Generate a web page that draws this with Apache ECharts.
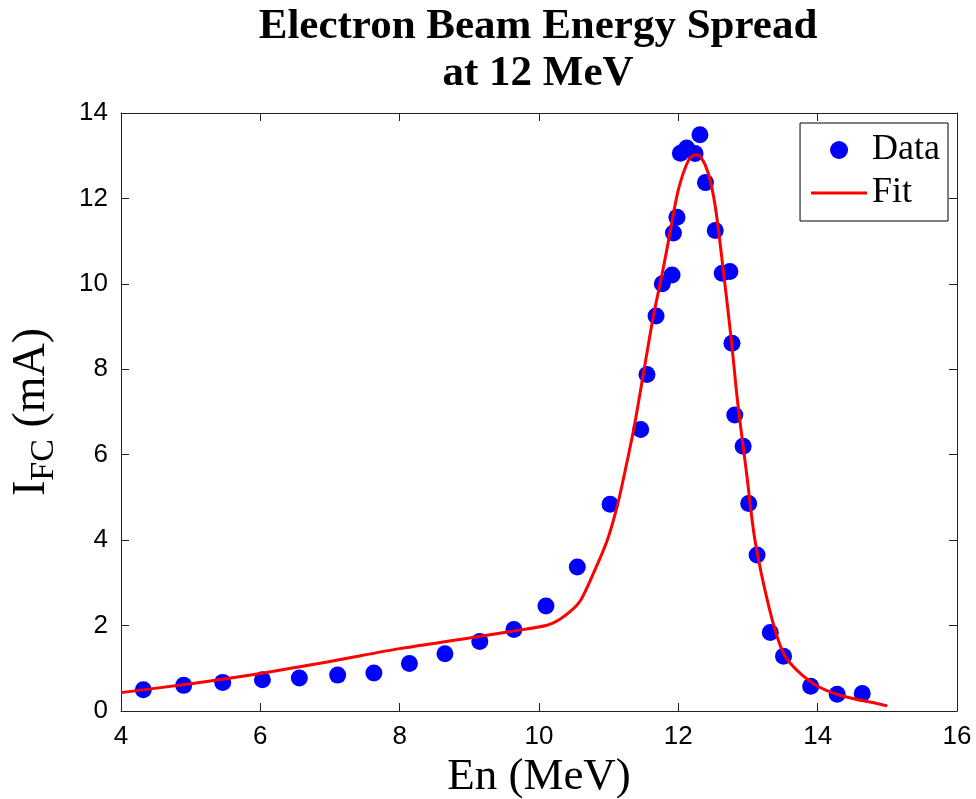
<!DOCTYPE html>
<html>
<head>
<meta charset="utf-8">
<title>Electron Beam Energy Spread</title>
<script src="https://cdn.jsdelivr.net/npm/echarts@6/dist/echarts.min.js"></script>
<style>
  html, body { margin: 0; padding: 0; background: #fff; }
  #chart { width: 976px; height: 799px; }
</style>
</head>
<body>
<div id="chart"></div>
<script>
// measured points (En in MeV, I_FC in mA)
const dataX = [4.32, 4.90, 5.46, 6.03, 6.56, 7.11, 7.63, 8.14, 8.65, 9.15, 9.64, 10.10, 10.55,
  11.02, 11.46, 11.55, 11.68, 11.77, 11.91, 11.93, 11.98, 12.03, 12.12, 12.24, 12.31, 12.39,
  12.53, 12.63, 12.74, 12.77, 12.81, 12.93, 13.01, 13.13, 13.32, 13.51, 13.90, 14.28, 14.64];
const dataY = [0.50, 0.60, 0.67, 0.73, 0.77, 0.84, 0.89, 1.11, 1.34, 1.63, 1.91, 2.46, 3.37,
  4.84, 6.59, 7.88, 9.25, 10.00, 10.21, 11.19, 11.56, 13.06, 13.18, 13.05, 13.49, 12.37,
  11.25, 10.25, 10.29, 8.61, 6.93, 6.20, 4.86, 3.65, 1.84, 1.28, 0.58, 0.39, 0.41];

// fit curve
const fitX = [4, 5, 6, 7, 8, 9, 9.64, 10.1, 10.3, 10.47, 10.6, 10.78, 10.98, 11.12, 11.22,
  11.36, 11.5, 11.64, 11.77, 11.88, 12.0, 12.15, 12.25, 12.32, 12.43, 12.53, 12.65, 12.76,
  12.85, 12.98, 13.1, 13.3, 13.47, 13.61, 13.94, 14.32, 14.9, 15];
const fitY = [0.43, 0.64, 0.88, 1.16, 1.46, 1.71, 1.875, 2.0, 2.15, 2.36, 2.6, 3.22, 4.0, 4.78,
  5.5, 6.6, 7.91, 9.23, 10.25, 11.19, 12.2, 12.91, 13.02, 12.98, 12.59, 11.81, 10.25, 8.69,
  7.25, 5.56, 4.0, 2.44, 1.5, 1.11, 0.64, 0.37, 0.16, 0.12];

const xTicks = { min: 4, max: 16, interval: 2 };
const yTicks = { min: 0, max: 14, interval: 2 };

const serif = "'Liberation Serif', 'Times New Roman', serif";
const sans = "'Liberation Sans', Arial, sans-serif";

const chart = echarts.init(document.getElementById('chart'));

// shared axis look: box frame, ticks pointing inward
function axisBase(ticks, showLabel) {
  return {
    type: 'value',
    min: ticks.min,
    max: ticks.max,
    interval: ticks.interval,
    axisLine: { show: true, onZero: false, lineStyle: { color: '#222', width: 1 } },
    axisTick: { show: true, inside: true, length: 8, lineStyle: { color: '#222' } },
    splitLine: { show: false },
    axisLabel: { show: showLabel, color: '#000', fontFamily: sans, fontSize: 26, margin: 13 }
  };
}

const option = {
  animation: false,
  backgroundColor: '#fff',
  title: {
    text: 'Electron Beam Energy Spread\nat 12 MeV',
    left: 538,
    top: 3,
    textAlign: 'center',
    padding: 0,
    textStyle: {
      fontFamily: serif,
      fontWeight: 'bold',
      fontSize: 43,
      lineHeight: 47,
      color: '#000'
    }
  },
  legend: {
    orient: 'vertical',
    right: 28,
    top: 123,
    padding: [9, 8, 10, 11],
    itemGap: 7,
    itemWidth: 56,
    itemHeight: 18,
    backgroundColor: '#fff',
    borderColor: '#000',
    borderWidth: 1,
    borderRadius: 0,
    textStyle: { fontFamily: serif, fontSize: 36, color: '#000' },
    data: [
      { name: 'Data', icon: 'circle' },
      { name: 'Fit', icon: 'path://M0,0 L56,0 L56,3 L0,3 Z', itemStyle: { color: '#ff0000' } }
    ]
  },
  grid: { left: 121, right: 19, top: 113, bottom: 88, outerBoundsMode: 'none' },
  xAxis: [
    Object.assign(axisBase(xTicks, true), {
      position: 'bottom',
      name: 'En (MeV)',
      nameLocation: 'middle',
      nameGap: 41,
      nameTextStyle: { fontFamily: serif, fontSize: 45, color: '#000' }
    }),
    Object.assign(axisBase(xTicks, false), { position: 'top' })
  ],
  yAxis: [
    Object.assign(axisBase(yTicks, true), {
      position: 'left',
      name: '{a|I}{b|FC}{a| (mA)}',
      nameLocation: 'middle',
      nameRotate: 90,
      nameGap: 60,
      nameTextStyle: {
        color: '#000',
        rich: {
          a: { fontFamily: serif, fontSize: 46, lineHeight: 58, verticalAlign: 'middle', color: '#000' },
          b: { fontFamily: serif, fontSize: 34, verticalAlign: 'bottom', color: '#000' }
        }
      }
    }),
    Object.assign(axisBase(yTicks, false), { position: 'right' })
  ],
  series: [
    {
      name: 'Data',
      type: 'scatter',
      symbol: 'circle',
      symbolSize: 17,
      itemStyle: { color: '#0000ff', opacity: 1 },
      data: dataX.map((x, i) => [x, dataY[i]])
    },
    {
      name: 'Fit',
      type: 'line',
      symbol: 'none',
      smooth: 0.3,
      lineStyle: { color: '#ff0000', width: 3 },
      itemStyle: { color: '#ff0000' },
      data: fitX.map((x, i) => [x, fitY[i]])
    }
  ]
};

chart.setOption(option);
</script>
</body>
</html>
